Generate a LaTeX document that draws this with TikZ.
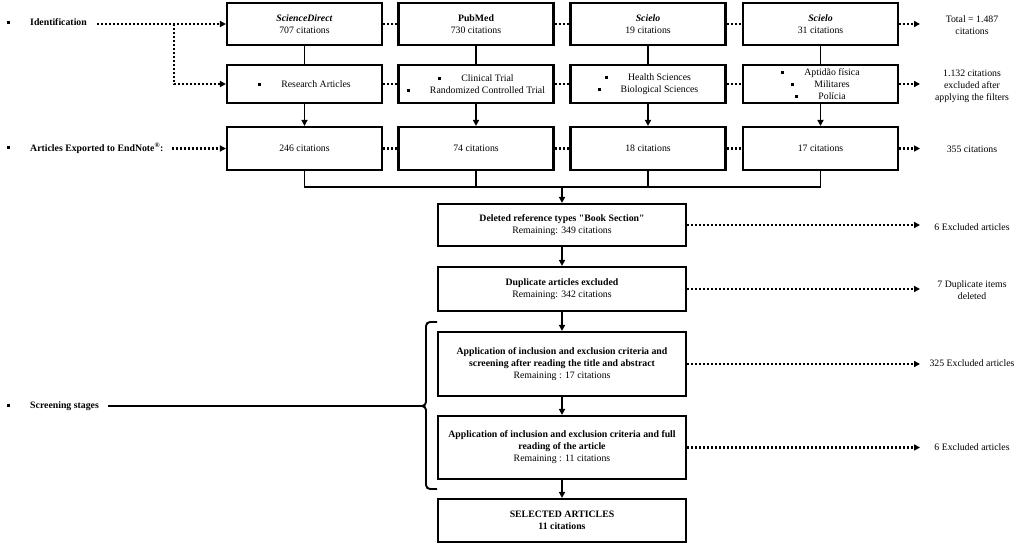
\documentclass[tikz,border=0pt]{standalone}
\usepackage{fontspec}
\setmainfont{Liberation Serif}
\usetikzlibrary{arrows.meta}
\newcommand\fsz{\fontsize{9.8}{12}\selectfont}
\newcommand\bul{\raisebox{1.8pt}{\rule{3pt}{3pt}}\hspace{20pt}}
\begin{document}
\begin{tikzpicture}[x=1pt,y=-1pt,
  box/.style={draw, line width=2.1pt, align=center, inner sep=1pt, font=\fsz, minimum width=155pt},
  rtext/.style={align=center, font=\fsz, inner sep=0pt},
  ltext/.style={anchor=west, font=\fsz\bfseries, inner sep=0pt},
  conn/.style={line width=1.7pt},
  carrow/.style={line width=1.7pt, -{Triangle[length=6pt,width=6pt]}},
  dotline/.style={line width=2.1pt, dash pattern=on 2pt off 2pt},
  dotarrow/.style={line width=2.1pt, dash pattern=on 2pt off 2pt, -{Triangle[length=6pt,width=6pt]}}
]
\useasboundingbox (0,0) rectangle (1024,545);

% Row 1
\node[box, minimum height=42pt] (a1) at (304.5,24) {\textbf{\textit{ScienceDirect}}\\707 citations};
\node[box, minimum height=42pt] (a2) at (476,24) {\textbf{PubMed}\\730 citations};
\node[box, minimum height=42pt] (a3) at (648,24) {\textbf{\textit{Scielo}}\\19 citations};
\node[box, minimum height=42pt] (a4) at (820.5,24) {\textbf{\textit{Scielo}}\\31 citations};

% Row 2
\node[box, minimum height=38pt] (b1) at (304.5,84) {\bul Research Articles};
\node[box, minimum height=38pt] (b2) at (476,84) {\bul Clinical Trial\\\bul Randomized Controlled Trial};
\node[box, minimum height=38pt] (b3) at (648,84) {\bul Health Sciences\\\bul Biological Sciences};
\node[box, minimum height=38pt] (b4) at (820.5,84) {\bul Aptidão física\\\bul Militares\\\bul Polícia};

% Row 3
\node[box, minimum height=43pt] (c1) at (304.5,148.5) {246 citations};
\node[box, minimum height=43pt] (c2) at (476,148.5) {74 citations};
\node[box, minimum height=43pt] (c3) at (648,148.5) {18 citations};
\node[box, minimum height=43pt] (c4) at (820.5,148.5) {17 citations};

% Column
\node[box, minimum width=248pt, minimum height=42pt] (d1) at (562,225) {\textbf{Deleted reference types \textquotedbl Book Section\textquotedbl}\\Remaining: 349 citations};
\node[box, minimum width=248pt, minimum height=44pt] (d2) at (562,289) {\textbf{Duplicate articles excluded}\\Remaining: 342 citations};
\node[box, minimum width=248pt, minimum height=64pt] (d3) at (562,364) {\textbf{Application of inclusion and exclusion criteria and}\\\textbf{screening after reading the title and abstract}\\Remaining : 17 citations};
\node[box, minimum width=248pt, minimum height=63pt] (d4) at (562,447.5) {\textbf{Application of inclusion and exclusion criteria and full}\\\textbf{reading of the article}\\Remaining : 11 citations};
\node[box, minimum width=248pt, minimum height=43pt] (d5) at (562,520.5) {\textbf{SELECTED ARTICLES}\\\textbf{11 citations}};

% Left labels
\node[ltext] (l1) at (7,22) {\bul Identification};
\node[ltext] (l2) at (7,148) {\bul Articles Exported to EndNote\textsuperscript{®}:};
\node[ltext] (l3) at (7,406) {\bul Screening stages};

% Right texts
\node[rtext] (r1) at (972,25) {Total = 1.487\\citations};
\node[rtext] (r2) at (972,86) {1.132 citations\\excluded after\\applying the filters};
\node[rtext] (r3) at (972,149) {355 citations};
\node[rtext] (r4) at (972,227) {6 Excluded articles};
\node[rtext] (r5) at (972,290) {7 Duplicate items\\deleted};
\node[rtext] (r6) at (972,363) {325 Excluded articles};
\node[rtext] (r7) at (972,447) {6 Excluded articles};

\coordinate (tipx) at (920,0);
\coordinate (br) at (174,24);
\coordinate (join) at (562,187);
\coordinate (brk) at (418,406);

% Left connectors
\draw[dotarrow] ([xshift=10pt]l1.east |- a1.west) -- (a1.west);
\draw[dotarrow] (br) |- (b1.west);
\draw[dotarrow] ([xshift=8pt]l2.east |- c1.west) -- (c1.west);
\draw[conn] ([xshift=9pt]l3.east |- brk) -- (brk);
\draw[line width=1.9pt, rounded corners=4pt] (437,322) -- (426,322) -- (426,406) -- (brk);
\draw[line width=1.9pt, rounded corners=4pt] (brk) -- (426,406) -- (426,489) -- (437,489);

% Horizontal dotted between boxes
\draw[dotline] (a1.east) -- (a2.west);
\draw[dotline] (a2.east) -- (a3.west);
\draw[dotline] (a3.east) -- (a4.west);
\draw[dotline] (b1.east) -- (b2.west);
\draw[dotline] (b2.east) -- (b3.west);
\draw[dotline] (b3.east) -- (b4.west);
\draw[dotline] (c1.east) -- (c2.west);
\draw[dotline] (c2.east) -- (c3.west);
\draw[dotline] (c3.east) -- (c4.west);

% Right dotted arrows
\draw[dotarrow] (a4.east) -- (a4.east -| tipx);
\draw[dotarrow] (b4.east) -- (b4.east -| tipx);
\draw[dotarrow] (c4.east) -- (c4.east -| tipx);
\draw[dotarrow] (d1.east) -- (d1.east -| tipx);
\draw[dotarrow] (d2.east) -- (d2.east -| tipx);
\draw[dotarrow] (d3.east) -- (d3.east -| tipx);
\draw[dotarrow] (d4.east) -- (d4.east -| tipx);

% Vertical connectors
\foreach \i in {1,2,3,4}{
  \draw[conn] (a\i.south) -- (b\i.north);
  \draw[carrow] (b\i.south) -- (c\i.north);
}
\draw[conn] (c1.south) -- (c1.south |- join) -- (c4.south |- join) -- (c4.south);
\draw[conn] (c2.south) -- (c2.south |- join);
\draw[conn] (c3.south) -- (c3.south |- join);
\draw[carrow] (join) -- (d1.north);
\draw[carrow] (d1.south) -- (d2.north);
\draw[carrow] (d2.south) -- (d3.north);
\draw[carrow] (d3.south) -- (d4.north);
\draw[carrow] (d4.south) -- (d5.north);
\end{tikzpicture}
\end{document}
